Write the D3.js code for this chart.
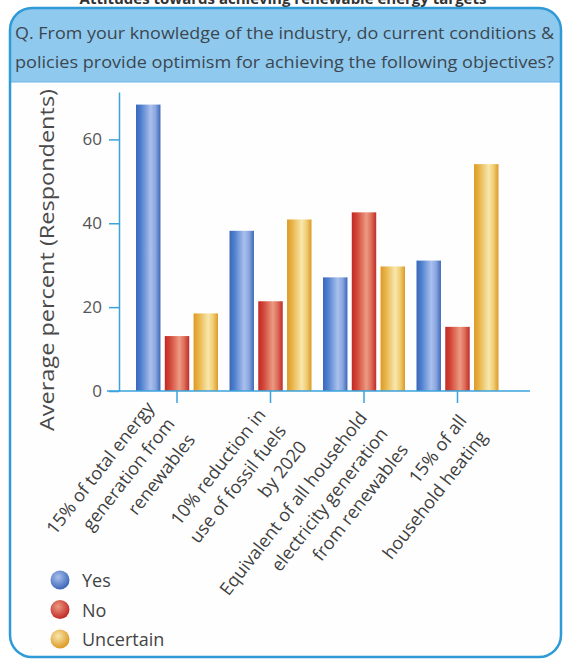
<!DOCTYPE html>
<html>
<head>
<meta charset="utf-8">
<script src="https://cdn.jsdelivr.net/npm/d3@7"></script>
<style>
  html, body { margin: 0; padding: 0; background: #ffffff; }
  svg { display: block; }
</style>
</head>
<body>
<svg id="chart" width="567" height="659"></svg>
<script>
// Survey: optimism about achieving renewable energy objectives
const categories = [
  ["15% of total energy", "generation from", "renewables"],
  ["10% reduction in", "use of fossil fuels", "by 2020"],
  ["Equivalent of all household", "electricity generation", "from renewables"],
  ["15% of all", "household heating"]
];
const seriesNames = ["Yes", "No", "Uncertain"];
const yesValues = [68.3, 38.2, 27.1, 31.1];
const noValues = [13.1, 21.4, 42.6, 15.3];
const uncertainValues = [18.5, 40.9, 29.7, 54.1];
const yTicks = [0, 20, 40, 60];
const questionLines = [
  "Q. From your knowledge of the industry, do current conditions &",
  "policies provide optimism for achieving the following objectives?"
];
const topTitle = "Attitudes towards achieving renewable energy targets";
const yLabel = "Average percent (Respondents)";

const values = { "Yes": yesValues, "No": noValues, "Uncertain": uncertainValues };
const FONT = "Open Sans, sans-serif";

const svg = d3.select("#chart");
const defs = svg.append("defs");

// cylinder-like shading for each series
const shades = {
  "Yes":       ["#3b67b8", "#4f7fcf", "#aac0ec", "#8aa6e0", "#3d68b6"],
  "No":        ["#c02a26", "#d24436", "#ec9a82", "#dc6c58", "#bf2c27"],
  "Uncertain": ["#dc9a26", "#e8b245", "#f8e7ad", "#f0cd72", "#db9a28"]
};
const stops = [0, 0.2, 0.6, 0.8, 1];
seriesNames.forEach((s, i) => {
  const g = defs.append("linearGradient").attr("id", "bar" + i)
    .attr("x1", "0%").attr("x2", "100%").attr("y1", "0%").attr("y2", "0%");
  shades[s].forEach((c, k) => g.append("stop").attr("offset", stops[k]).attr("stop-color", c));
  const r = defs.append("radialGradient").attr("id", "dot" + i)
    .attr("cx", "40%").attr("cy", "35%").attr("r", "65%");
  r.append("stop").attr("offset", 0).attr("stop-color", shades[s][2]);
  r.append("stop").attr("offset", 1).attr("stop-color", shades[s][0]);
});

// title above the panel, running off the top edge
svg.append("text")
  .attr("x", 283).attr("y", 4)
  .attr("text-anchor", "middle")
  .attr("font-family", FONT)
  .attr("font-size", 15).attr("font-weight", 700)
  .attr("fill", "#333")
  .text(topTitle);

// panel frame with header band
const px0 = 10, py0 = 8, px1 = 561, py1 = 657, rad = 22, headH = 74;
const clip = defs.append("clipPath").attr("id", "panelClip");
clip.append("rect").attr("x", px0).attr("y", py0).attr("width", px1 - px0)
  .attr("height", py1 - py0).attr("rx", rad);
const panel = svg.append("g").attr("clip-path", "url(#panelClip)");
panel.append("rect").attr("x", px0).attr("y", py0).attr("width", px1 - px0)
  .attr("height", py1 - py0).attr("fill", "#fefefe");
panel.append("rect").attr("x", px0).attr("y", py0).attr("width", px1 - px0)
  .attr("height", headH).attr("fill", "#8fcaee");
panel.append("line").attr("x1", px0).attr("x2", px1)
  .attr("y1", py0 + headH).attr("y2", py0 + headH)
  .attr("stroke", "#6fb5e2").attr("stroke-width", 1);
svg.append("rect").attr("x", px0).attr("y", py0).attr("width", px1 - px0)
  .attr("height", py1 - py0).attr("rx", rad)
  .attr("fill", "none").attr("stroke", "#2f9ad6").attr("stroke-width", 2.5);

svg.append("g").selectAll("text").data(questionLines).join("text")
  .attr("x", 15).attr("y", (d, i) => 39 + i * 29)
  .attr("font-family", FONT)
  .attr("font-size", 17)
  .attr("textLength", 539).attr("lengthAdjust", "spacingAndGlyphs")
  .attr("fill", "#3c4650")
  .text(d => d);

// scales
const baseY = 391, topY = 92;
const x0 = d3.scaleBand().domain(d3.range(categories.length))
  .range([130.4, 504.1]).paddingInner(0.123).paddingOuter(0.06);
const x1 = d3.scaleBand().domain(seriesNames)
  .range([0, x0.bandwidth()]).paddingInner(0.15);
const y = d3.scaleLinear().domain([0, 71.3]).range([baseY, topY]);

const axisColor = "#3aa3dc";
const axisX = 119;

// bars
const groups = svg.append("g").selectAll("g").data(categories.map((c, i) => i)).join("g")
  .attr("transform", i => `translate(${x0(i)},0)`);
groups.selectAll("rect")
  .data(i => seriesNames.map((s, k) => ({ s, k, v: values[s][i] })))
  .join("rect")
  .attr("x", d => x1(d.s))
  .attr("width", x1.bandwidth())
  .attr("y", d => y(d.v))
  .attr("height", d => baseY - y(d.v))
  .attr("fill", d => `url(#bar${d.k})`);

// y axis
const yAxis = svg.append("g").attr("transform", `translate(${axisX},0)`)
  .call(d3.axisLeft(y).tickValues(yTicks).tickSize(10).tickPadding(7).tickSizeOuter(0));
yAxis.select(".domain").attr("stroke", axisColor).attr("stroke-width", 1.5);
yAxis.selectAll(".tick line").attr("stroke", axisColor).attr("stroke-width", 1.5);
yAxis.selectAll(".tick text")
  .attr("font-family", FONT).attr("font-size", 17).attr("fill", "#555");

// baseline
svg.append("line").attr("x1", 107).attr("x2", 530)
  .attr("y1", baseY).attr("y2", baseY)
  .attr("stroke", axisColor).attr("stroke-width", 1.5);

// category ticks under the middle bar of each group
const tickX = i => x0(i) + x1("No") + x1.bandwidth() / 2;
svg.append("g").selectAll("line").data(categories.map((c, i) => i)).join("line")
  .attr("x1", tickX).attr("x2", tickX)
  .attr("y1", baseY).attr("y2", baseY + 12)
  .attr("stroke", axisColor).attr("stroke-width", 1.5);

// rotated category labels; end of the first line placed near each tick
const labelShift = [[-22, 17], [-4, 24], [4, 27], [10, 30]];
const lineH = 26;
svg.append("g").selectAll("text").data(categories.map((c, i) => i)).join("text")
  .attr("transform", i =>
    `translate(${tickX(i) + labelShift[i][0]},${baseY + labelShift[i][1]}) rotate(-52)`)
  .attr("text-anchor", "end")
  .attr("font-family", FONT)
  .attr("font-size", 18)
  .attr("fill", "#3f3f3f")
  .each(function(i) {
    const t = d3.select(this);
    categories[i].forEach((ln, k) => {
      t.append("tspan").attr("x", 0).attr("y", k * lineH).text(ln);
    });
  });

// y label
svg.append("text")
  .attr("transform", `translate(54,${(88 + 432) / 2}) rotate(-90)`)
  .attr("text-anchor", "middle")
  .attr("font-family", FONT)
  .attr("font-size", 20)
  .attr("textLength", 342).attr("lengthAdjust", "spacingAndGlyphs")
  .attr("fill", "#4a4a4a")
  .text(yLabel);

// legend
const legend = svg.append("g").selectAll("g").data(seriesNames).join("g")
  .attr("transform", (d, i) => `translate(60,${580 + i * 29.5})`);
legend.append("circle").attr("r", 9.5).attr("fill", (d, i) => `url(#dot${i})`);
legend.append("text").attr("x", 22).attr("y", 7)
  .attr("font-family", FONT).attr("font-size", 18).attr("fill", "#444")
  .text(d => d);
</script>
</body>
</html>
